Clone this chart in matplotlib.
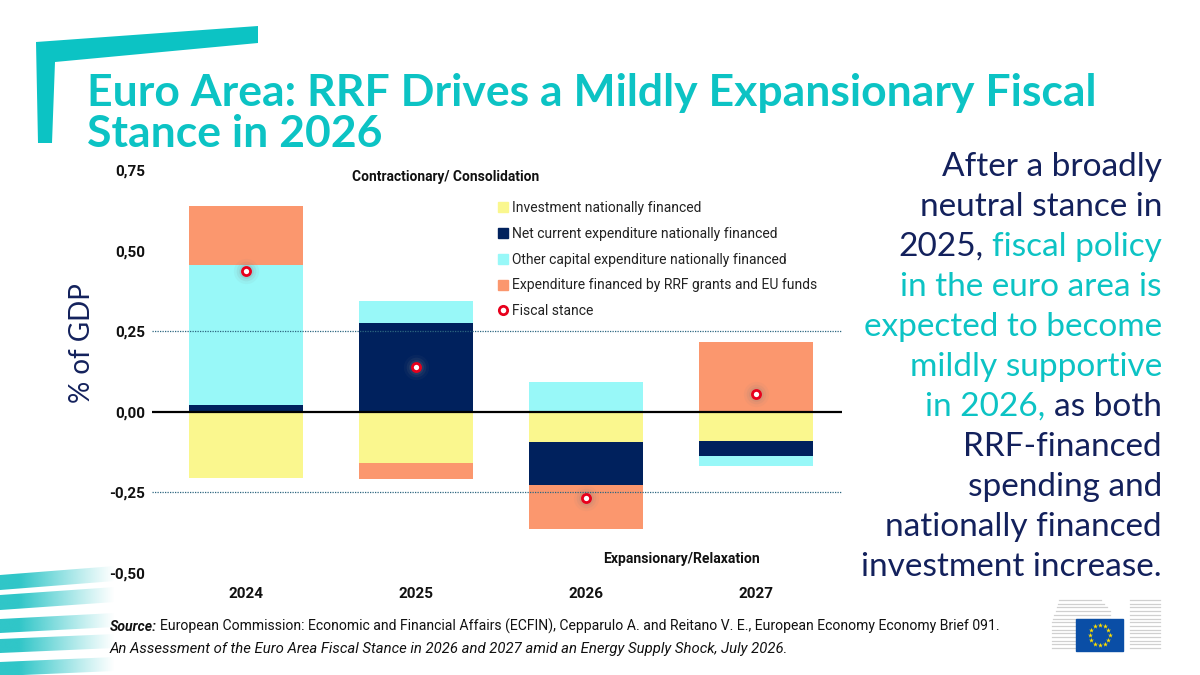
import numpy as np
import matplotlib
matplotlib.use('Agg')
import matplotlib.pyplot as plt
from matplotlib.patches import Polygon, Rectangle
from matplotlib.lines import Line2D

# ---------------- data ----------------
years = ['2024', '2025', '2026', '2027']
investment_nat = [-0.205, -0.160, -0.093, -0.090]
net_current_nat = [0.022, 0.276, -0.133, -0.046]
other_capital_nat = [0.433, 0.068, 0.093, -0.031]
rrf_eu_funds = [0.183, -0.049, -0.139, 0.217]
fiscal_stance = [0.437, 0.140, -0.266, 0.056]
series_names = ['Investment nationally financed',
                'Net current expenditure nationally financed',
                'Other capital expenditure nationally financed',
                'Expenditure financed by RRF grants and EU funds']
stance_name = 'Fiscal stance'
ytick_values = [-0.50, -0.25, 0.00, 0.25, 0.50, 0.75]
ytick_labels = ['-0,50', '-0,25', '0,00', '0,25', '0,50', '0,75']

# ---------------- style ----------------
TEAL = '#0CC3C4'
NAVY = '#13215C'
colors = ['#FAF78E', '#00215D', '#98F8F8', '#FB976E']
COND = ['Roboto', 'DejaVu Sans']
W, H = 1200, 675

fig = plt.figure(figsize=(12, 6.75), dpi=100)
fig.patch.set_facecolor('white')

# overlay axes in pixel coordinates
bg = fig.add_axes([0, 0, 1, 1], zorder=0)
bg.set_xlim(0, W)
bg.set_ylim(H, 0)
bg.axis('off')

renderer = fig.canvas.get_renderer()


def fit_width(t, target):
    """shrink/grow a text's font so its width equals target pixels"""
    w = t.get_window_extent(renderer).width
    t.set_fontsize(t.get_fontsize() * target / w)
    return t


# top-left decoration
bg.add_patch(Polygon([(36, 42), (258, 26), (258, 43), (55, 62), (52, 143), (38, 143)],
                     closed=True, color=TEAL, lw=0))

# bottom-left gradient stripes
grad = np.ones((1, 256, 4))
teal_rgb = np.array([0x30, 0xC6, 0xC8]) / 255
xs = np.linspace(0, 1, 256)
alpha = np.clip(1.2 - xs * 1.2, 0, 1) ** 1.1
grad[0, :, :3] = teal_rgb
grad[0, :, 3] = alpha
stripes = [((575, 590), (566, 581)), ((595, 610), (587, 602)), ((619, 633), (613, 627)),
           ((639, 653), (634, 648)), ((662, 676), (657, 671))]
for (l0, l1), (r0, r1) in stripes:
    im = bg.imshow(grad, extent=(0, 115, l1 + 2, r0 - 8), aspect='auto', zorder=1,
                   interpolation='bilinear')
    poly = Polygon([(0, l0), (115, r0), (115, r1), (0, l1)], closed=True,
                   transform=bg.transData, facecolor='none', edgecolor='none')
    bg.add_patch(poly)
    im.set_clip_path(poly)
bg.set_xlim(0, W)
bg.set_ylim(H, 0)

# EU logo (simplified)
for i in range(14):
    yy = 600 + i * 3.7
    x0 = 1052 + max(0, 6 - i) * 1.2
    bg.plot([x0, 1110 - max(0, 3 - i) * 3], [yy, yy], color='#D0D0D0', lw=0.9, zorder=1)
    bg.plot([1130, 1160], [yy, yy], color='#D0D0D0', lw=0.9, zorder=1)
bg.add_patch(Rectangle((1076, 619), 47, 32, color='#0A4EA6', zorder=2))
ang = np.linspace(0, 2 * np.pi, 13)[:-1]
bg.scatter(1099.5 + 10 * np.cos(ang), 635 + 10 * np.sin(ang), marker='*', s=14,
           color='#FFE000', lw=0, zorder=3)

# ---------------- main chart ----------------
ax = fig.add_axes([152 / W, 1 - 573 / H, (842 - 152) / W, (573 - 170) / H], zorder=2)
ax.patch.set_alpha(0)
x = np.arange(len(years))
bw = 0.665
pos_bottom = np.zeros(len(years))
neg_bottom = np.zeros(len(years))
for vals, col, name in zip([investment_nat, net_current_nat, other_capital_nat, rrf_eu_funds],
                           colors, series_names):
    v = np.array(vals)
    bottoms = np.where(v >= 0, pos_bottom, neg_bottom)
    ax.bar(x, v, bw, bottom=bottoms, color=col, lw=0, zorder=2, label=name)
    pos_bottom = pos_bottom + np.where(v >= 0, v, 0)
    neg_bottom = neg_bottom + np.where(v < 0, v, 0)

# fiscal stance markers with soft glow
for s, a in [(330, 0.06), (200, 0.10), (110, 0.16)]:
    ax.scatter(x, fiscal_stance, s=s, color='#808080', alpha=a, lw=0, zorder=4)
ax.scatter(x, fiscal_stance, s=34, facecolor='white', edgecolor='#E8001C', lw=2.0, zorder=5)

ax.axhline(0, color='black', lw=1.6, zorder=3)
for yv in (0.25, -0.25):
    ax.axhline(yv, color='#2C6680', lw=0.9, ls=(0, (1, 1)), zorder=6)

ax.set_xlim(-0.553, 3.506)
ax.set_ylim(-0.5, 0.75)
ax.set_yticks(ytick_values)
ax.set_yticklabels(ytick_labels)
ax.set_xticks(x)
ax.set_xticklabels(years)
for sp in ax.spines.values():
    sp.set_visible(False)
ax.tick_params(axis='both', length=0)
ax.tick_params(axis='y', pad=5)
ax.tick_params(axis='x', pad=10)
for lab in ax.get_yticklabels() + ax.get_xticklabels():
    lab.set_fontfamily(COND)
    lab.set_fontweight('bold')
    lab.set_fontsize(11)
    lab.set_color('#111111')

# legend
handles = [Line2D([], [], marker='s', ls='none', color=c, markersize=7) for c in colors]
handles.append(Line2D([], [], marker='o', ls='none', markerfacecolor='white',
                      markeredgecolor='#E8001C', markeredgewidth=2, markersize=6))
leg = fig.legend(handles, series_names + [stance_name], loc='upper left',
                 bbox_to_anchor=(499 / W, 1 - 201 / H), frameon=False,
                 handlelength=0.6, handletextpad=0.35, labelspacing=0.85,
                 borderaxespad=0, borderpad=0,
                 prop={'family': COND, 'size': 10})
for t in leg.get_texts():
    t.set_color('#222222')

# annotations
a1 = bg.text(352, 181, 'Contractionary/ Consolidation', fontfamily=COND, fontweight='bold',
             fontsize=10, color='#111111', va='baseline', ha='left', zorder=5)
fit_width(a1, 186)
a2 = bg.text(603, 563, 'Expansionary/Relaxation', fontfamily=COND, fontweight='bold',
             fontsize=10, color='#111111', va='baseline', ha='left', zorder=5)
fit_width(a2, 157)

# y label
bg.text(82, 343, '% of GDP', rotation=90, ha='center', va='center', fontsize=20,
        color=NAVY, fontfamily='Lato', zorder=5)

# title
bg.text(87, 106, 'Euro Area: RRF Drives a Mildly Expansionary Fiscal', fontsize=32,
        fontweight='bold', color=TEAL, fontfamily='Lato', va='baseline', ha='left')
bg.text(87, 147, 'Stance in 2026', fontsize=32,
        fontweight='bold', color=TEAL, fontfamily='Lato', va='baseline', ha='left')

# right text with mixed colours
right_lines = [
    [('After a broadly', NAVY)],
    [('neutral stance in', NAVY)],
    [('2025,', NAVY), ('fiscal policy', TEAL)],
    [('in the euro area is', TEAL)],
    [('expected to become', TEAL)],
    [('mildly supportive', TEAL)],
    [('in 2026,', TEAL), ('as both', NAVY)],
    [('RRF-financed', NAVY)],
    [('spending and', NAVY)],
    [('nationally financed', NAVY)],
    [('investment increase.', NAVY)],
]
RX = 1162
rkw = dict(fontsize=24, fontfamily='Lato', va='baseline')
for i, segs in enumerate(right_lines):
    yb = 176 + i * 40
    if len(segs) == 1:
        bg.text(RX, yb, segs[0][0], color=segs[0][1], ha='right', **rkw)
    else:
        full = segs[0][0] + ' ' + segs[1][0]
        probe = bg.text(RX, yb, full, ha='right', alpha=0, **rkw)
        left = probe.get_window_extent(renderer).x0
        probe.remove()
        bg.text(left, yb, segs[0][0], color=segs[0][1], ha='left', **rkw)
        bg.text(RX, yb, segs[1][0], color=segs[1][1], ha='right', **rkw)

# source
skw = dict(fontsize=11, fontfamily=COND, va='baseline', color='#111111')
t0 = bg.text(110, 631, 'Source:', fontweight='bold', fontstyle='italic', ha='left', **skw)
s1 = bg.text(160, 631, 'European Commission: Economic and Financial Affairs (ECFIN), Cepparulo A. '
             'and Reitano V. E., European Economy Economy Brief 091.', ha='left', **skw)
s2 = bg.text(110, 653, 'An Assessment of the Euro Area Fiscal Stance in 2026 and 2027 amid an '
             'Energy Supply Shock, July 2026.', fontstyle='italic', ha='left', **skw)
scale = 838 / s1.get_window_extent(renderer).width
for t in (t0, s1):
    t.set_fontsize(11 * scale)
s1.set_x(t0.get_window_extent(renderer).x1 + 3)
fit_width(s2, 676)

fig.savefig('out.png', dpi=100, facecolor='white')
